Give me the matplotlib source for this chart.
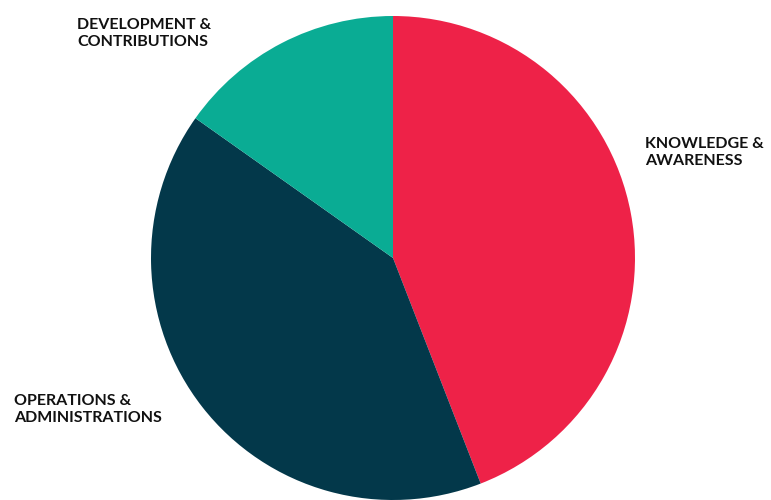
import matplotlib

matplotlib.use("Agg")
import matplotlib.pyplot as plt

categories = ["KNOWLEDGE &\nAWARENESS", "OPERATIONS &\nADMINISTRATIONS", "DEVELOPMENT &\nCONTRIBUTIONS"]
shares = [44.1, 40.7, 15.2]
colors = ["#EE2248", "#03384A", "#0AAC94"]

W, H = 771, 500
fig = plt.figure(figsize=(W / 100, H / 100), dpi=100)
ax = fig.add_axes([0, 0, 1, 1])

ax.pie(
    shares,
    colors=colors,
    startangle=90,
    counterclock=False,
    center=(393, 242),
    radius=242,
    wedgeprops={"linewidth": 0},
    frame=True,
)
ax.set_xlim(0, W)
ax.set_ylim(0, H)
ax.set_aspect("equal")
ax.set_axis_off()

# label anchors: (x, last-line baseline) in pixels from the top-left corner
label_pos = [(645, 165), (14, 422), (77, 46)]
for text, (x, y) in zip(categories, label_pos):
    ax.text(
        x, H - y, text,
        family="Lato", fontweight="bold", fontsize=11.5,
        color="#111111", ha="left", va="baseline", linespacing=1.25,
    )

fig.savefig("out.png", dpi=100)
